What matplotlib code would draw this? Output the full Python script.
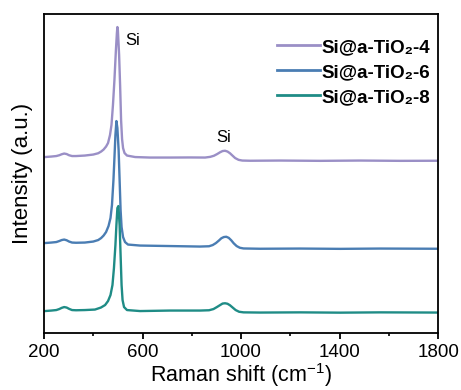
import numpy as np
import matplotlib
matplotlib.use("Agg")
import matplotlib.pyplot as plt

plt.rcParams['font.family'] = ['Liberation Sans', 'DejaVu Sans']
plt.rcParams['mathtext.default'] = 'regular'

# Raman spectra, shift in cm^-1 and intensity (a.u., curves already offset)
shift_4 = [204, 230, 250, 262, 272, 282, 292, 302, 314, 330, 366, 400, 420, 432,
           442, 452, 460, 468, 474, 480, 486, 492, 496, 498, 500, 505, 509, 513,
           517, 521, 527, 537, 570, 630, 712, 793, 854, 875, 890, 903, 915, 925,
           935, 945, 955, 965, 976, 990, 1005, 1037, 1158, 1321, 1483, 1646, 1800]
inten_4 = [176, 176.5, 177, 177.8, 178.8, 179.5, 179, 177.8, 177, 177, 177.5, 178.5,
           179.8, 181.5, 183.5, 186.5, 190, 198, 208, 228, 253, 283, 300, 306, 303,
           278, 248, 213, 194, 185, 180, 177.5, 176, 175.5, 175.5, 175.6, 175.5,
           176.2, 177.3, 179, 180.8, 182, 182.3, 181.5, 179.8, 177.5, 175, 173.2,
           172.5, 172.3, 172.5, 172.2, 172.5, 172.2, 172.3]

shift_6 = [204, 230, 250, 262, 272, 282, 292, 302, 314, 330, 366, 400, 420, 432,
           442, 452, 462, 470, 476, 482, 486, 490, 494, 498, 503, 507, 511, 515,
           521, 529, 541, 590, 712, 833, 870, 885, 898, 910, 920, 930, 940, 950,
           960, 970, 982, 995, 1010, 1077, 1240, 1402, 1564, 1800]
inten_6 = [90, 90.5, 91, 92, 93, 93.5, 92.8, 91.5, 90.5, 90.3, 90.5, 91.5, 93, 95,
           97.5, 101, 107, 115, 128, 153, 175, 198, 212, 205, 183, 153, 123, 106,
           96, 91, 88.5, 87.5, 87, 86.5, 86.8, 88, 90, 92.5, 94.8, 96, 96.3, 95.2,
           92.8, 89.8, 87, 85.3, 84.6, 84.3, 84.5, 84.2, 84.5, 84.3]

shift_8 = [204, 230, 250, 262, 272, 282, 292, 302, 314, 330, 366, 407, 431, 448,
           460, 470, 478, 484, 490, 494, 498, 502, 507, 511, 515, 519, 525, 537,
           590, 712, 833, 870, 888, 902, 915, 925, 935, 945, 955, 966, 978, 992,
           1010, 1077, 1240, 1402, 1564, 1800]
inten_8 = [22, 22.5, 23, 24, 25.2, 26, 25.5, 24.2, 23, 22.8, 23, 23.5, 25.5, 28,
           32, 38, 48, 65, 88, 108, 125, 127, 108, 78, 48, 33, 26, 23, 22, 22.5,
           22.5, 22.8, 24, 26, 28, 29.5, 29.8, 29.3, 27.8, 25.5, 23, 21.3, 20.7,
           20.5, 20.7, 20.4, 20.7, 20.5]

labels = ['Si@a-TiO\u2082-4', 'Si@a-TiO\u2082-6', 'Si@a-TiO\u2082-8']
colors = ['#9a8fc6', '#4a7db3', '#1f8c86']

fig = plt.figure(figsize=(4.61, 3.90), dpi=100)
ax = fig.add_axes([0.0954, 0.146, 0.855, 0.818])

ax.plot(shift_4, inten_4, color=colors[0], lw=1.7, label=labels[0])
ax.plot(shift_6, inten_6, color=colors[1], lw=1.7, label=labels[1])
ax.plot(shift_8, inten_8, color=colors[2], lw=1.7, label=labels[2])

ax.text(529, 293, 'Si', fontsize=12, ha='left', va='center')
ax.text(931, 195.5, 'Si', fontsize=12, ha='center', va='center')

ax.set_xlim(200, 1800)
ax.set_ylim(0, 319)
ax.set_xticks([200, 600, 1000, 1400, 1800])
ax.set_xticks([400, 800, 1200, 1600], minor=True)
ax.set_yticks([])
ax.tick_params(axis='x', which='major', direction='out', length=4, width=1.3,
               labelsize=13.5, pad=4)
ax.tick_params(axis='x', which='minor', direction='out', length=2, width=1.2)
for s in ax.spines.values():
    s.set_linewidth(1.3)

ax.set_xlabel('Raman shift (cm$^{-1}$)', fontsize=15.5, labelpad=0)
ax.set_ylabel('Intensity (a.u.)', fontsize=16, labelpad=8)

leg = ax.legend(loc='upper right', bbox_to_anchor=(0.98, 0.922), frameon=False,
                prop={'weight': 'bold', 'size': 13.5}, handlelength=2.3,
                handletextpad=0.1, labelspacing=0.42, borderpad=0, borderaxespad=0)
for h in leg.get_lines():
    h.set_linewidth(2)

fig.savefig('out.png', dpi=100)
